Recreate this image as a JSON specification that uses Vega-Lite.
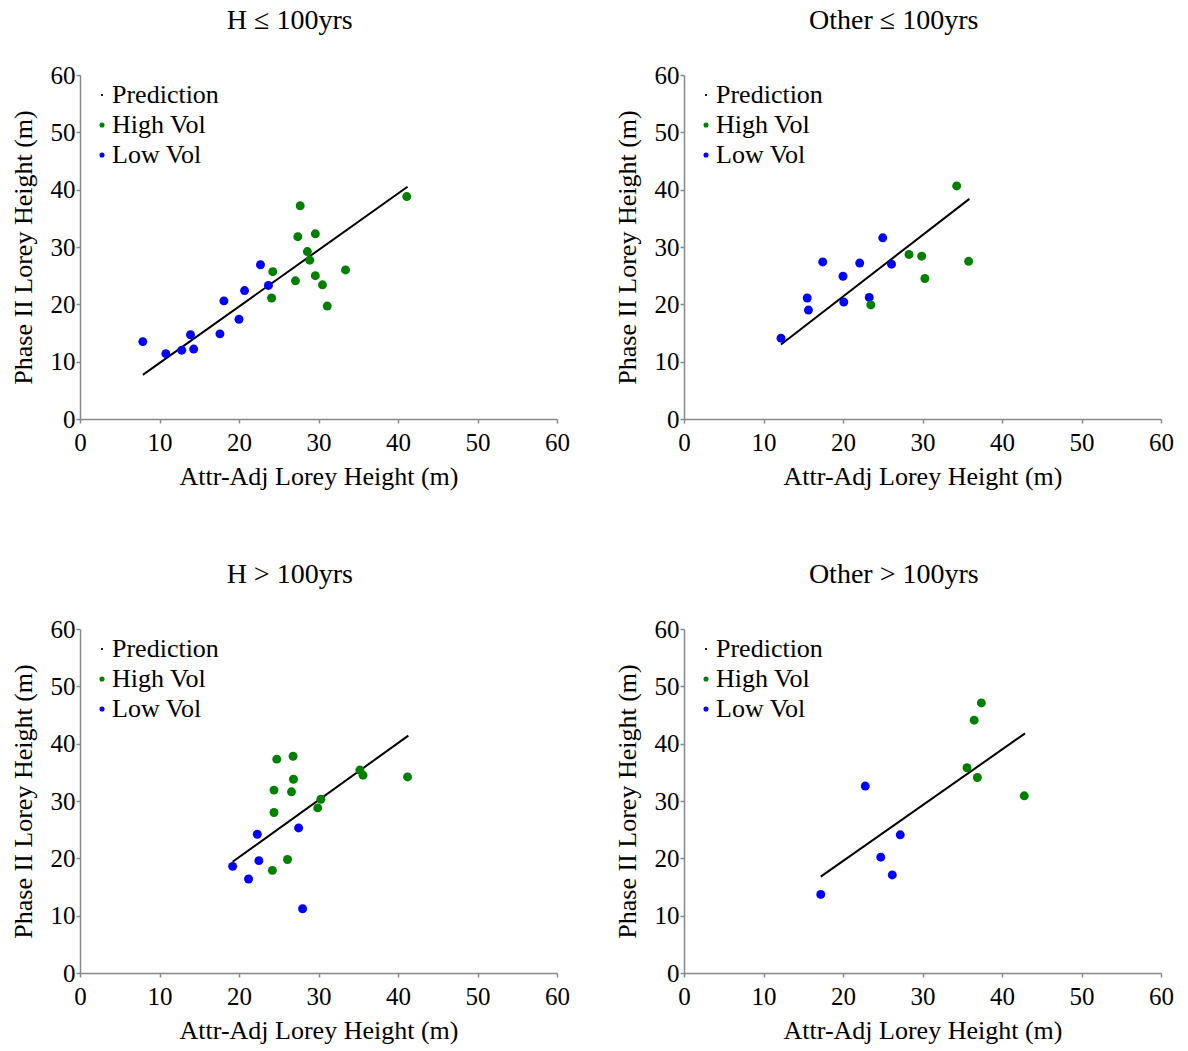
{
  "$schema": "https://vega.github.io/schema/vega-lite/v6.json",
  "padding": {"left": 10, "top": 7, "right": 5, "bottom": 5},
  "background": "white",
  "datasets": {
    "pts": [
      {"panel": "A", "series": "Low Vol", "x": 7.9, "y": 13.5},
      {"panel": "A", "series": "Low Vol", "x": 10.8, "y": 11.4},
      {"panel": "A", "series": "Low Vol", "x": 12.8, "y": 12.0},
      {"panel": "A", "series": "Low Vol", "x": 13.9, "y": 14.7},
      {"panel": "A", "series": "Low Vol", "x": 14.3, "y": 12.2},
      {"panel": "A", "series": "Low Vol", "x": 17.6, "y": 14.85},
      {"panel": "A", "series": "Low Vol", "x": 18.1, "y": 20.6},
      {"panel": "A", "series": "Low Vol", "x": 20.0, "y": 17.4},
      {"panel": "A", "series": "Low Vol", "x": 20.7, "y": 22.4},
      {"panel": "A", "series": "Low Vol", "x": 22.7, "y": 26.9},
      {"panel": "A", "series": "Low Vol", "x": 23.7, "y": 23.3},
      {"panel": "A", "series": "High Vol", "x": 27.7, "y": 37.2},
      {"panel": "A", "series": "High Vol", "x": 27.4, "y": 31.8},
      {"panel": "A", "series": "High Vol", "x": 29.6, "y": 32.3},
      {"panel": "A", "series": "High Vol", "x": 28.6, "y": 29.2},
      {"panel": "A", "series": "High Vol", "x": 28.9, "y": 27.7},
      {"panel": "A", "series": "High Vol", "x": 24.25, "y": 25.7},
      {"panel": "A", "series": "High Vol", "x": 27.1, "y": 24.1},
      {"panel": "A", "series": "High Vol", "x": 29.6, "y": 25.0},
      {"panel": "A", "series": "High Vol", "x": 30.5, "y": 23.4},
      {"panel": "A", "series": "High Vol", "x": 33.4, "y": 26.0},
      {"panel": "A", "series": "High Vol", "x": 24.1, "y": 21.1},
      {"panel": "A", "series": "High Vol", "x": 31.1, "y": 19.7},
      {"panel": "A", "series": "High Vol", "x": 41.1, "y": 38.8},
      {"panel": "B", "series": "Low Vol", "x": 12.2, "y": 14.1},
      {"panel": "B", "series": "Low Vol", "x": 15.5, "y": 21.1},
      {"panel": "B", "series": "Low Vol", "x": 15.65, "y": 19.0},
      {"panel": "B", "series": "Low Vol", "x": 17.45, "y": 27.4},
      {"panel": "B", "series": "Low Vol", "x": 20.0, "y": 24.9},
      {"panel": "B", "series": "Low Vol", "x": 20.1, "y": 20.4},
      {"panel": "B", "series": "Low Vol", "x": 22.1, "y": 27.2},
      {"panel": "B", "series": "Low Vol", "x": 23.3, "y": 21.2},
      {"panel": "B", "series": "Low Vol", "x": 25.0, "y": 31.6},
      {"panel": "B", "series": "Low Vol", "x": 26.1, "y": 27.0},
      {"panel": "B", "series": "High Vol", "x": 23.5, "y": 19.9},
      {"panel": "B", "series": "High Vol", "x": 28.3, "y": 28.7},
      {"panel": "B", "series": "High Vol", "x": 29.9, "y": 28.4},
      {"panel": "B", "series": "High Vol", "x": 30.3, "y": 24.5},
      {"panel": "B", "series": "High Vol", "x": 34.3, "y": 40.65},
      {"panel": "B", "series": "High Vol", "x": 35.8, "y": 27.5},
      {"panel": "C", "series": "Low Vol", "x": 19.2, "y": 18.6},
      {"panel": "C", "series": "Low Vol", "x": 21.2, "y": 16.4},
      {"panel": "C", "series": "Low Vol", "x": 22.3, "y": 24.2},
      {"panel": "C", "series": "Low Vol", "x": 22.5, "y": 19.6},
      {"panel": "C", "series": "Low Vol", "x": 27.5, "y": 25.3},
      {"panel": "C", "series": "Low Vol", "x": 28.0, "y": 11.2},
      {"panel": "C", "series": "High Vol", "x": 24.75, "y": 37.3},
      {"panel": "C", "series": "High Vol", "x": 26.8, "y": 37.8},
      {"panel": "C", "series": "High Vol", "x": 24.4, "y": 31.9},
      {"panel": "C", "series": "High Vol", "x": 24.4, "y": 28.0},
      {"panel": "C", "series": "High Vol", "x": 26.85, "y": 33.8},
      {"panel": "C", "series": "High Vol", "x": 26.6, "y": 31.6},
      {"panel": "C", "series": "High Vol", "x": 26.1, "y": 19.8},
      {"panel": "C", "series": "High Vol", "x": 24.2, "y": 17.9},
      {"panel": "C", "series": "High Vol", "x": 29.9, "y": 28.8},
      {"panel": "C", "series": "High Vol", "x": 30.3, "y": 30.3},
      {"panel": "C", "series": "High Vol", "x": 35.2, "y": 35.4},
      {"panel": "C", "series": "High Vol", "x": 35.6, "y": 34.5},
      {"panel": "C", "series": "High Vol", "x": 41.2, "y": 34.2},
      {"panel": "D", "series": "Low Vol", "x": 17.2, "y": 13.7},
      {"panel": "D", "series": "Low Vol", "x": 22.8, "y": 32.6},
      {"panel": "D", "series": "Low Vol", "x": 24.75, "y": 20.2},
      {"panel": "D", "series": "Low Vol", "x": 26.2, "y": 17.1},
      {"panel": "D", "series": "Low Vol", "x": 27.2, "y": 24.1},
      {"panel": "D", "series": "High Vol", "x": 35.6, "y": 35.8},
      {"panel": "D", "series": "High Vol", "x": 36.9, "y": 34.1},
      {"panel": "D", "series": "High Vol", "x": 36.5, "y": 44.1},
      {"panel": "D", "series": "High Vol", "x": 37.4, "y": 47.1},
      {"panel": "D", "series": "High Vol", "x": 42.8, "y": 30.9}
    ],
    "pred": [
      {"panel": "A", "x": 7.9, "y": 7.7},
      {"panel": "A", "x": 41.2, "y": 40.5},
      {"panel": "B", "x": 12.2, "y": 13.0},
      {"panel": "B", "x": 35.9, "y": 38.4},
      {"panel": "C", "x": 19.2, "y": 19.4},
      {"panel": "C", "x": 41.3, "y": 41.4},
      {"panel": "D", "x": 17.2, "y": 16.8},
      {"panel": "D", "x": 42.9, "y": 41.8}
    ]
  },
  "columns": 2,
  "bounds": "flush",
  "spacing": {"column": 127, "row": 210},
  "resolve": {"scale": {"color": "independent", "shape": "independent"}, "legend": {"color": "independent", "shape": "independent"}},
  "concat": [
    {
      "title": {"text": "H ≤ 100yrs"},
      "width": 477, "height": 344,
      "layer": [
        {"data": {"name": "pred"}, "transform": [{"filter": "datum.panel === 'A'"}],
         "mark": {"type": "line", "color": "black", "strokeWidth": 2},
         "encoding": {"x": {"field": "x", "type": "quantitative"}, "y": {"field": "y", "type": "quantitative"}}},
        {"data": {"name": "pts"}, "transform": [{"filter": "datum.panel === 'A'"}],
         "mark": {"type": "point", "filled": true, "size": 80, "opacity": 1},
         "encoding": {
           "x": {"field": "x", "type": "quantitative", "scale": {"domain": [0, 60], "nice": false}, "axis": {"values": [0, 10, 20, 30, 40, 50, 60], "title": "Attr-Adj Lorey Height (m)"}},
           "y": {"field": "y", "type": "quantitative", "scale": {"domain": [0, 60], "nice": false}, "axis": {"values": [0, 10, 20, 30, 40, 50, 60], "title": "Phase II Lorey Height (m)"}},
           "color": {"field": "series", "type": "nominal", "scale": {"domain": ["Prediction", "High Vol", "Low Vol"], "range": ["black", "#008000", "#0000ff"]}, "legend": {"title": null}},
           "shape": {"field": "series", "type": "nominal", "scale": {"domain": ["Prediction", "High Vol", "Low Vol"], "range": ["M-0.35,-0.35H0.35V0.35H-0.35Z", "circle", "circle"]}, "legend": {"title": null}}
         }}
      ]
    },
    {
      "title": {"text": "Other ≤ 100yrs"},
      "width": 477, "height": 344,
      "layer": [
        {"data": {"name": "pred"}, "transform": [{"filter": "datum.panel === 'B'"}],
         "mark": {"type": "line", "color": "black", "strokeWidth": 2},
         "encoding": {"x": {"field": "x", "type": "quantitative"}, "y": {"field": "y", "type": "quantitative"}}},
        {"data": {"name": "pts"}, "transform": [{"filter": "datum.panel === 'B'"}],
         "mark": {"type": "point", "filled": true, "size": 80, "opacity": 1},
         "encoding": {
           "x": {"field": "x", "type": "quantitative", "scale": {"domain": [0, 60], "nice": false}, "axis": {"values": [0, 10, 20, 30, 40, 50, 60], "title": "Attr-Adj Lorey Height (m)"}},
           "y": {"field": "y", "type": "quantitative", "scale": {"domain": [0, 60], "nice": false}, "axis": {"values": [0, 10, 20, 30, 40, 50, 60], "title": "Phase II Lorey Height (m)"}},
           "color": {"field": "series", "type": "nominal", "scale": {"domain": ["Prediction", "High Vol", "Low Vol"], "range": ["black", "#008000", "#0000ff"]}, "legend": {"title": null}},
           "shape": {"field": "series", "type": "nominal", "scale": {"domain": ["Prediction", "High Vol", "Low Vol"], "range": ["M-0.35,-0.35H0.35V0.35H-0.35Z", "circle", "circle"]}, "legend": {"title": null}}
         }}
      ]
    },
    {
      "title": {"text": "H > 100yrs"},
      "width": 477, "height": 344,
      "layer": [
        {"data": {"name": "pred"}, "transform": [{"filter": "datum.panel === 'C'"}],
         "mark": {"type": "line", "color": "black", "strokeWidth": 2},
         "encoding": {"x": {"field": "x", "type": "quantitative"}, "y": {"field": "y", "type": "quantitative"}}},
        {"data": {"name": "pts"}, "transform": [{"filter": "datum.panel === 'C'"}],
         "mark": {"type": "point", "filled": true, "size": 80, "opacity": 1},
         "encoding": {
           "x": {"field": "x", "type": "quantitative", "scale": {"domain": [0, 60], "nice": false}, "axis": {"values": [0, 10, 20, 30, 40, 50, 60], "title": "Attr-Adj Lorey Height (m)"}},
           "y": {"field": "y", "type": "quantitative", "scale": {"domain": [0, 60], "nice": false}, "axis": {"values": [0, 10, 20, 30, 40, 50, 60], "title": "Phase II Lorey Height (m)"}},
           "color": {"field": "series", "type": "nominal", "scale": {"domain": ["Prediction", "High Vol", "Low Vol"], "range": ["black", "#008000", "#0000ff"]}, "legend": {"title": null}},
           "shape": {"field": "series", "type": "nominal", "scale": {"domain": ["Prediction", "High Vol", "Low Vol"], "range": ["M-0.35,-0.35H0.35V0.35H-0.35Z", "circle", "circle"]}, "legend": {"title": null}}
         }}
      ]
    },
    {
      "title": {"text": "Other > 100yrs"},
      "width": 477, "height": 344,
      "layer": [
        {"data": {"name": "pred"}, "transform": [{"filter": "datum.panel === 'D'"}],
         "mark": {"type": "line", "color": "black", "strokeWidth": 2},
         "encoding": {"x": {"field": "x", "type": "quantitative"}, "y": {"field": "y", "type": "quantitative"}}},
        {"data": {"name": "pts"}, "transform": [{"filter": "datum.panel === 'D'"}],
         "mark": {"type": "point", "filled": true, "size": 80, "opacity": 1},
         "encoding": {
           "x": {"field": "x", "type": "quantitative", "scale": {"domain": [0, 60], "nice": false}, "axis": {"values": [0, 10, 20, 30, 40, 50, 60], "title": "Attr-Adj Lorey Height (m)"}},
           "y": {"field": "y", "type": "quantitative", "scale": {"domain": [0, 60], "nice": false}, "axis": {"values": [0, 10, 20, 30, 40, 50, 60], "title": "Phase II Lorey Height (m)"}},
           "color": {"field": "series", "type": "nominal", "scale": {"domain": ["Prediction", "High Vol", "Low Vol"], "range": ["black", "#008000", "#0000ff"]}, "legend": {"title": null}},
           "shape": {"field": "series", "type": "nominal", "scale": {"domain": ["Prediction", "High Vol", "Low Vol"], "range": ["M-0.35,-0.35H0.35V0.35H-0.35Z", "circle", "circle"]}, "legend": {"title": null}}
         }}
      ]
    }
  ],
  "config": {
    "view": {"stroke": null},
    "font": "Liberation Serif",
    "title": {"font": "Liberation Serif", "fontSize": 28, "fontWeight": "normal", "color": "black", "anchor": "middle", "frame": "bounds", "offset": 28},
    "axis": {
      "grid": false,
      "domainColor": "#888888",
      "domainWidth": 1.5,
      "tickColor": "#888888",
      "tickWidth": 1.5,
      "tickSize": 4,
      "labelFont": "Liberation Serif",
      "labelFontSize": 25,
      "labelColor": "black",
      "labelFlush": false,
      "labelOverlap": false,
      "titleFont": "Liberation Serif",
      "titleFontSize": 26,
      "titleFontWeight": "normal",
      "titleColor": "black"
    },
    "axisX": {"labelPadding": 7, "titlePadding": 8},
    "axisY": {"labelPadding": 1, "titlePadding": 14},
    "legend": {
      "orient": "none",
      "legendX": 9,
      "legendY": 7,
      "labelFont": "Liberation Serif",
      "labelFontSize": 26,
      "labelColor": "black",
      "labelOffset": -3,
      "symbolSize": 26,
      "symbolStrokeWidth": 0,
      "rowPadding": 4,
      "padding": 0
    }
  }
}
